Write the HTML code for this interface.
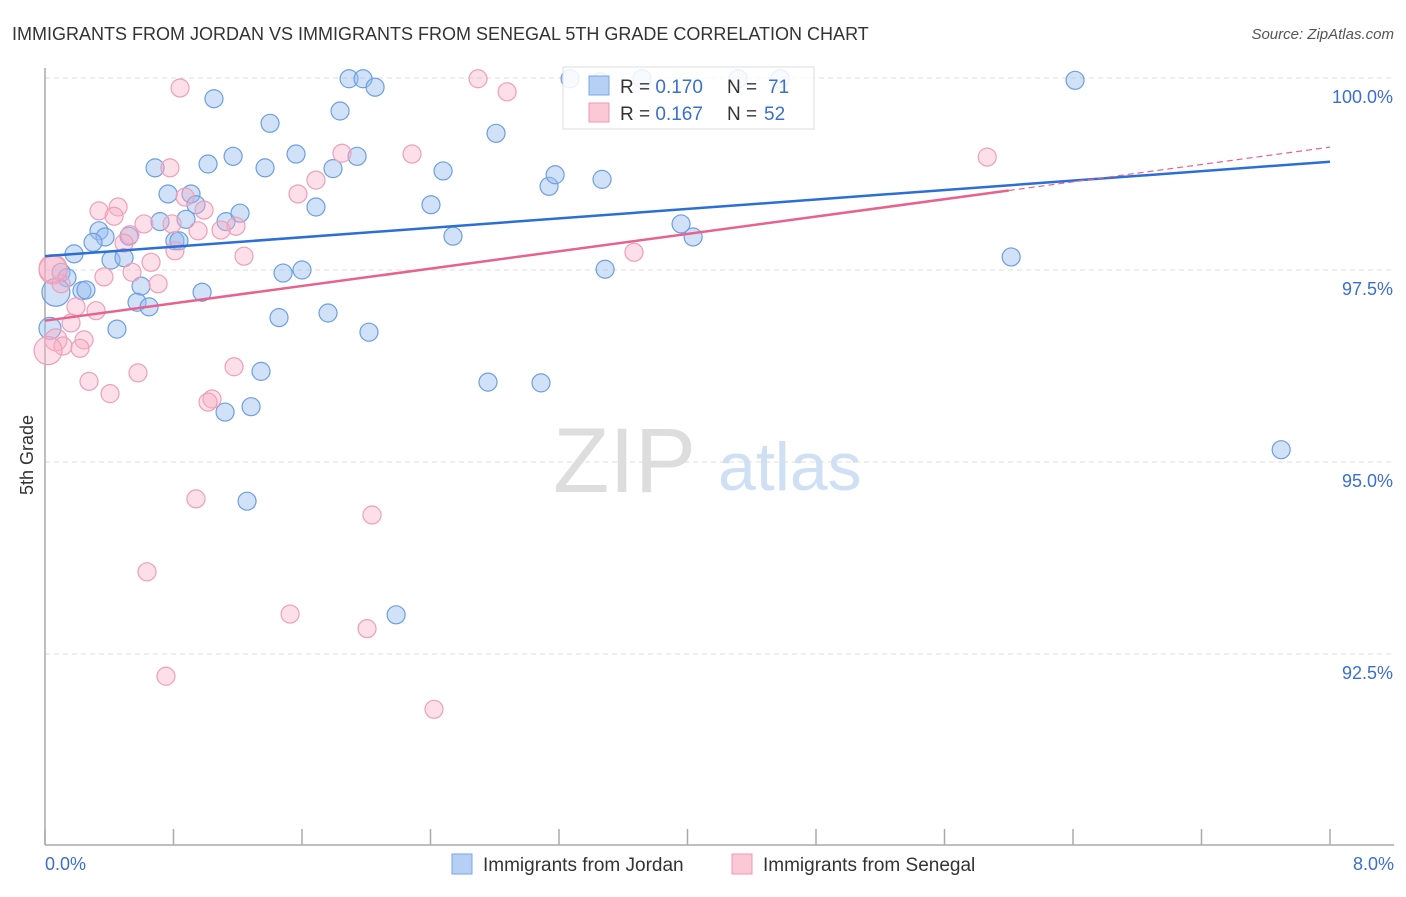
<!DOCTYPE html>
<html><head><meta charset="utf-8"><style>
body{margin:0;background:#fff;font-family:"Liberation Sans",sans-serif;}
svg text{font-family:"Liberation Sans",sans-serif;}
</style></head><body>
<svg id="c" width="1406" height="892">
<text x="12" y="40" font-size="18" fill="#333">IMMIGRANTS FROM JORDAN VS IMMIGRANTS FROM SENEGAL 5TH GRADE CORRELATION CHART</text>
<text x="1394" y="39" font-size="15" fill="#555" font-style="italic" text-anchor="end">Source: ZipAtlas.com</text>
<text transform="translate(33,455) rotate(-90)" font-size="18" fill="#333" text-anchor="middle">5th Grade</text>
<g><text x="553" y="492" font-size="92" fill="#ddd" font-family="Liberation Serif,serif">ZIP</text><text x="718" y="490" font-size="68" fill="#d0e0f4">atlas</text></g>
<g id="grid"></g><g id="axes"></g><g id="pts"></g><g id="trend"></g>
<g>
<rect x="563" y="67" width="251" height="62" fill="#fff" fill-opacity="0.85" stroke="#ddd"/>
<rect x="589" y="76" width="20" height="19" fill="#b5d0f4" stroke="#7aa6e3"/>
<rect x="589" y="103" width="20" height="19" fill="#fbc8d6" stroke="#ee9ab4"/>
<text x="620" y="93" font-size="19" fill="#333">R = <tspan fill="#3a6fd0">0.170</tspan>  <tspan x="727">N =  </tspan><tspan fill="#3a6fd0" x="768">71</tspan></text>
<text x="620" y="120" font-size="19" fill="#333">R =  <tspan fill="#3a6fd0">0.167</tspan>  <tspan x="727">N = </tspan><tspan fill="#3a6fd0" x="764">52</tspan></text>
</g>
<g>
<rect x="452" y="854" width="20" height="20" fill="#b5d0f4" stroke="#7aa6e3"/>
<text x="483" y="871" font-size="19" fill="#333">Immigrants from Jordan</text>
<rect x="732" y="854" width="20" height="20" fill="#fbc8d6" stroke="#ee9ab4"/>
<text x="763" y="871" font-size="19" fill="#333">Immigrants from Senegal</text>
</g>
</svg>
<script>
const xTicks=[0,0.8,1.6,2.4,3.2,4,4.8,5.6,6.4,7.2,8];
const xTickLabels=["0.0%","8.0%"];
const yTicks=[100,97.5,95,92.5];
const yTickLabels=["100.0%","97.5%","95.0%","92.5%"];
const jordanX=[1.893,1.980,2.055,1.052,1.401,1.837,2.808,0.685,1.015,1.171,1.370,1.563,1.793,1.943,2.478,2.403,3.138,3.176,3.468,0.766,0.909,0.940,0.878,0.716,1.127,1.214,1.687,2.540,3.960,4.035,0.181,0.336,0.374,0.299,0.523,0.809,0.834,0.100,0.137,0.411,0.492,1.482,1.600,3.487,6.015,0.068,0.230,0.255,0.598,0.978,0.573,0.648,0.448,1.457,1.762,2.017,1.345,2.758,3.088,1.121,1.283,1.258,2.186,6.413,7.696,0.031,3.269,3.717,4.577,4.315,3.456];
const jordanY=[99.99,99.99,99.88,99.73,99.41,99.57,99.28,98.83,98.88,98.98,98.83,99.01,98.82,98.98,98.79,98.35,98.59,98.74,98.68,98.49,98.49,98.35,98.16,98.13,98.13,98.24,98.32,97.94,98.10,97.93,97.71,98.01,97.93,97.86,97.94,97.88,97.88,97.47,97.40,97.63,97.66,97.46,97.50,97.51,97.67,97.21,97.23,97.24,97.29,97.21,97.08,97.02,96.73,96.88,96.94,96.69,96.18,96.04,96.03,95.65,95.72,94.49,93.01,99.97,95.16,96.74,99.99,99.99,99.99,99.99,99.95];
const senegalX=[0.841,2.696,2.877,0.778,1.849,2.285,1.687,1.575,5.866,0.336,0.455,0.430,0.616,0.791,0.872,0.990,1.189,1.096,0.953,0.529,0.492,0.809,1.239,0.660,0.050,0.367,0.542,0.704,0.100,0.193,0.318,0.162,0.068,0.243,0.112,0.218,0.019,0.274,0.579,0.405,1.177,1.040,1.015,0.940,2.036,0.635,1.526,2.005,0.753,2.422,3.667,0.05];
const senegalY=[99.87,99.99,99.82,98.83,99.02,99.01,98.67,98.49,98.97,98.27,98.32,98.20,98.10,98.10,98.45,98.28,98.07,98.02,98.01,97.96,97.85,97.75,97.68,97.60,97.50,97.41,97.47,97.32,97.32,97.02,96.97,96.81,96.59,96.59,96.51,96.48,96.45,96.05,96.16,95.89,96.24,95.82,95.78,94.52,94.31,93.57,93.02,92.83,92.21,91.78,97.73,97.52];
const jordanTrend=[97.68,98.91];
const senegalTrend=[96.84,99.10];
const NS="http://www.w3.org/2000/svg";
const X0=45,X1=1330,Y0=78;
function sx(v){return X0+(v/8)*(X1-X0);}
function sy(v){return Y0+(100-v)*76.8;}
function mk(tag,attrs,parent){const e=document.createElementNS(NS,tag);for(const k in attrs)e.setAttribute(k,attrs[k]);document.getElementById(parent).appendChild(e);return e;}
yTicks.forEach((t,i)=>{
  const l=mk('line',{x1:X0,x2:1394,y1:sy(t),y2:sy(t),stroke:'#ddd','stroke-dasharray':'5,4'},'grid');
  
  
  const tx=mk('text',{x:1393,y:sy(t)+25,'font-size':18,fill:'#3a6fd0','text-anchor':'end'},'grid');
  tx.textContent=yTickLabels[i];
  
  
});
const ax=mk('line',{x1:X0,x2:X0,y1:68,y2:845,stroke:'#aaa','stroke-width':1.5},'axes');


const bx=mk('line',{x1:X0,x2:1394,y1:845,y2:845,stroke:'#aaa','stroke-width':1.5},'axes');


xTicks.forEach(t=>{
  const l=mk('line',{x1:sx(t),x2:sx(t),y1:829,y2:845,stroke:'#aaa','stroke-width':1.5},'axes');
  
  
});
[[0,'start',45],[8,'end',1394]].forEach((a,i)=>{
  const tx=mk('text',{x:a[2],y:870,'font-size':18,fill:'#3a6fd0','text-anchor':a[1]},'axes');
  tx.textContent=xTickLabels[i];
  
  
});
function pts(xs,ys,fill,stroke,name){
  xs.forEach((x,i)=>{
    let r=9; if(x<0.08) r=(i%3===0?14:11);
    const c=mk('circle',{cx:sx(x),cy:sy(ys[i]),r:r,fill:fill,stroke:stroke,'stroke-width':1.2},'pts');
    
    
  });
}
pts(jordanX,jordanY,'rgba(150,188,240,0.45)','#6d9fe2','point-jordan');
pts(senegalX,senegalY,'rgba(248,176,198,0.4)','#ef9fb8','point-senegal');
const tj=mk('line',{x1:sx(0),y1:sy(jordanTrend[0]),x2:sx(8),y2:sy(jordanTrend[1]),stroke:'#2a6fd6','stroke-width':2.5},'trend');


const f=0.75, ym=senegalTrend[0]+(senegalTrend[1]-senegalTrend[0])*f;
const ts=mk('line',{x1:sx(0),y1:sy(senegalTrend[0]),x2:sx(8*f),y2:sy(ym),stroke:'#e8628e','stroke-width':2.5},'trend');


const td=mk('line',{x1:sx(8*f),y1:sy(ym),x2:sx(8),y2:sy(senegalTrend[1]),stroke:'#e8628e','stroke-width':1.2,'stroke-dasharray':'6,4'},'trend');


</script>
</body></html>
